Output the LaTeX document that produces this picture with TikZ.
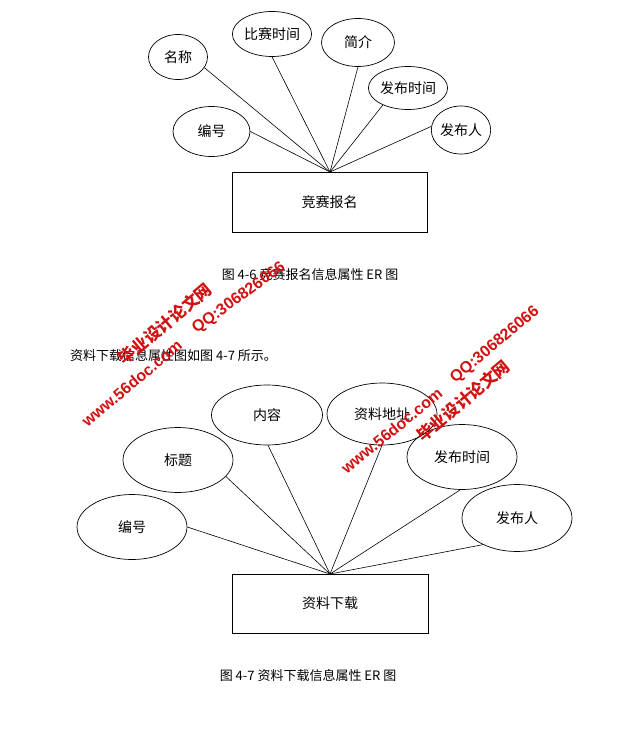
\documentclass[tikz,border=0pt]{standalone}
\usepackage{fontspec}
\setmainfont{Noto Sans CJK SC}
\newfontfamily\wmlatin{Liberation Sans}
\usetikzlibrary{shapes.geometric}
\definecolor{wmred}{RGB}{210,18,18}
\tikzset{
  attr/.style={draw=black, line width=0.7pt, ellipse, inner sep=0pt, font=\fontsize{14}{16}\selectfont},
  ent/.style={draw=black, line width=0.7pt, rectangle, inner sep=0pt, font=\fontsize{14}{16}\selectfont},
  link/.style={draw=black, line width=0.6pt},
  capt/.style={font=\fontsize{13}{15}\selectfont, inner sep=0pt},
  wmcn/.style={text=wmred, font=\fontsize{16.5}{18}\selectfont\bfseries, inner sep=0pt},
  wmlt/.style={text=wmred, font=\fontsize{16}{18}\selectfont\wmlatin\bfseries, inner sep=0pt}
}
\begin{document}
\begin{tikzpicture}[x=1pt,y=-1pt]
\useasboundingbox (0,0) rectangle (638,749);
% ---------- top diagram ----------
\node[ent, minimum width=195pt, minimum height=60pt] (r1) at (329.5,202) {竞赛报名};
\coordinate (c1) at (330,172);
\node[attr, minimum width=59pt, minimum height=45pt] (a1) at (178,57) {名称};
\node[attr, minimum width=69pt, minimum height=45pt] (a2) at (272,34) {比赛时间};
\node[attr, minimum width=73pt, minimum height=48pt] (a3) at (358,42.5) {简介};
\node[attr, minimum width=67pt, minimum height=43pt] (a4) at (408,88) {发布时间};
\node[attr, minimum width=58pt, minimum height=48pt] (a5) at (461,130) {发布人};
\node[attr, minimum width=77pt, minimum height=50pt] (a6) at (211.5,131.5) {编号};
\draw[link] (c1) -- (a1.-22);
\draw[link] (c1) -- (a2.south);
\draw[link] (c1) -- (a3.south);
\draw[link] (c1) -- (a4.-146);
\draw[link] (c1) -- (a5.173);
\draw[link] (c1) -- (a6.east);
\node[capt] (cap1) at (310,275) {图 4-6 竞赛报名信息属性 ER 图};
\node[capt, anchor=west] (para) at (70,356) {资料下载信息属性图如图 4-7 所示。};
% ---------- bottom diagram ----------
\node[ent, minimum width=196pt, minimum height=59pt] (r2) at (330,603.5) {资料下载};
\coordinate (c2) at (330,574);
\node[attr, minimum width=110pt, minimum height=65pt] (b1) at (132,527) {编号};
\node[attr, minimum width=110pt, minimum height=65pt] (b2) at (178,460) {标题};
\node[attr, minimum width=111pt, minimum height=60pt] (b3) at (267,415) {内容};
\node[attr, minimum width=110pt, minimum height=62pt] (b4) at (382,414) {资料地址};
\node[attr, minimum width=110pt, minimum height=65pt] (b5) at (462,457) {发布时间};
\node[attr, minimum width=110pt, minimum height=67pt] (b6) at (517,518) {发布人};
\draw[link] (c2) -- (b1.east);
\draw[link] (c2) -- (b2.-19.5);
\draw[link] (c2) -- (b3.-88);
\draw[link] (c2) -- (b4.south);
\draw[link] (c2) -- (b5.-93);
\draw[link] (c2) -- (b6.-142.6);
\node[capt] (cap2) at (308,676) {图 4-7 资料下载信息属性 ER 图};
% ---------- watermarks ----------
\node[wmlt, rotate=40] (w1) at (131.7,383.3) {www.56doc.com};
\node[wmcn, rotate=40] (w2) at (165,324) {毕业设计论文网};
\node[wmlt, rotate=36] (w3) at (239,298.3) {QQ:306826066};
\node[wmlt, rotate=39] (w4) at (391.7,430.7) {www.56doc.com};
\node[wmcn, rotate=40] (w5) at (463.3,400.7) {毕业设计论文网};
\node[wmlt, rotate=40] (w6) at (495,345) {QQ:306826066};
\end{tikzpicture}
\end{document}
